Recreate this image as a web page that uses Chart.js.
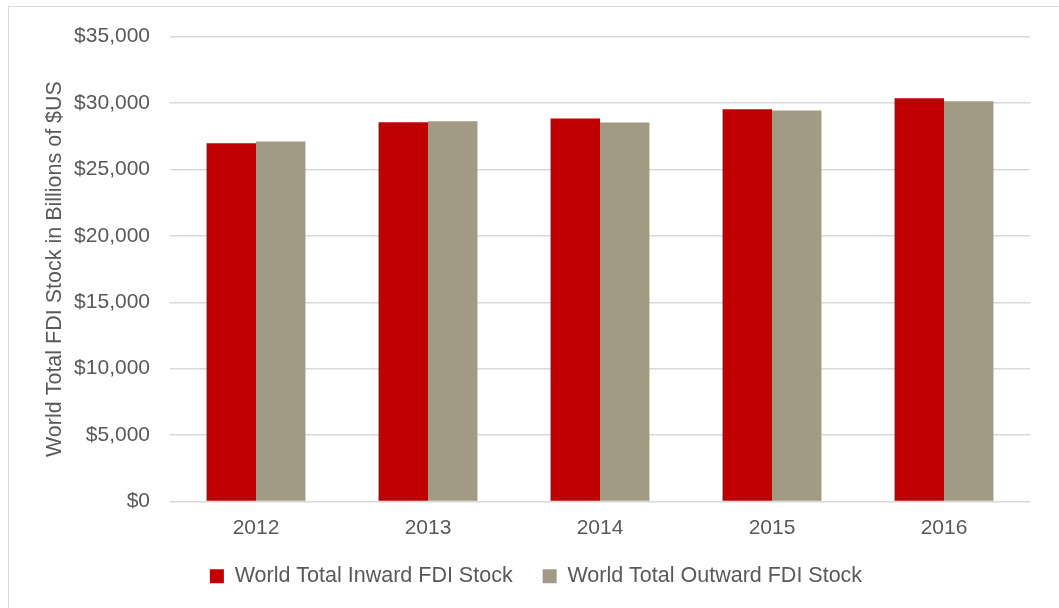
<!DOCTYPE html>
<html>
<head>
<meta charset="utf-8">
<script src="https://cdn.jsdelivr.net/npm/chart.js@4.4.1/dist/chart.umd.min.js"></script>
<style>
  html, body { margin: 0; padding: 0; background: #fff; overflow: hidden; }
  #frame { position: absolute; left: 8px; top: 6px; width: 1060px; height: 610px; border: 1px solid #d9d9d9; box-sizing: border-box; }
  #c { position: absolute; left: 0; top: -3px; }
</style>
</head>
<body>
<div id="frame"><canvas id="c" width="1058" height="608"></canvas></div>
<script>
const years = ["2012", "2013", "2014", "2015", "2016"];
const inwardLabel = "World Total Inward FDI Stock";
const outwardLabel = "World Total Outward FDI Stock";
const inward = [26970, 28550, 28830, 29530, 30360];
const outward = [27100, 28620, 28530, 29430, 30130];
const yTitle = "World Total FDI Stock in Billions of $US";

const textColor = "#595959";
const fontFamily = "'Liberation Sans', Arial, sans-serif";
Chart.defaults.font.family = fontFamily;
Chart.defaults.color = textColor;

new Chart(document.getElementById("c"), {
  type: "bar",
  data: {
    labels: years,
    datasets: [
      { label: inwardLabel, data: inward, backgroundColor: "#C00000", borderWidth: 0 },
      { label: outwardLabel, data: outward, backgroundColor: "#A39A86", borderWidth: 0 }
    ]
  },
  options: {
    responsive: false,
    animation: false,
    devicePixelRatio: 1,
    datasets: { bar: { categoryPercentage: 0.575, barPercentage: 1.0 } },
    layout: { padding: { left: 33, right: 37, top: 16, bottom: 15 } },
    plugins: {
      tooltip: { enabled: false },
      legend: {
        position: "bottom",
        labels: {
          boxWidth: 14, boxHeight: 14, padding: 30,
          color: textColor,
          font: { size: 21.5, family: fontFamily }
        }
      }
    },
    scales: {
      x: {
        grid: { display: false, drawTicks: false },
        border: { display: false },
        ticks: { padding: 14, color: textColor, font: { size: 21, family: fontFamily } },
        afterFit: s => { s.height = 34; }
      },
      y: {
        min: 0, max: 35000,
        grid: { color: "#d9d9d9", lineWidth: 1.5, drawTicks: false },
        border: { display: false },
        ticks: {
          stepSize: 5000, padding: 20, color: textColor,
          font: { size: 21, family: fontFamily },
          callback: v => "$" + v.toLocaleString("en-US")
        },
        title: {
          display: true, text: yTitle, color: textColor,
          font: { size: 21.5, family: fontFamily }, padding: { top: 0, bottom: 0 }
        },
        afterFit: s => { s.width = 128; }
      }
    }
  }
});
</script>
</body>
</html>
